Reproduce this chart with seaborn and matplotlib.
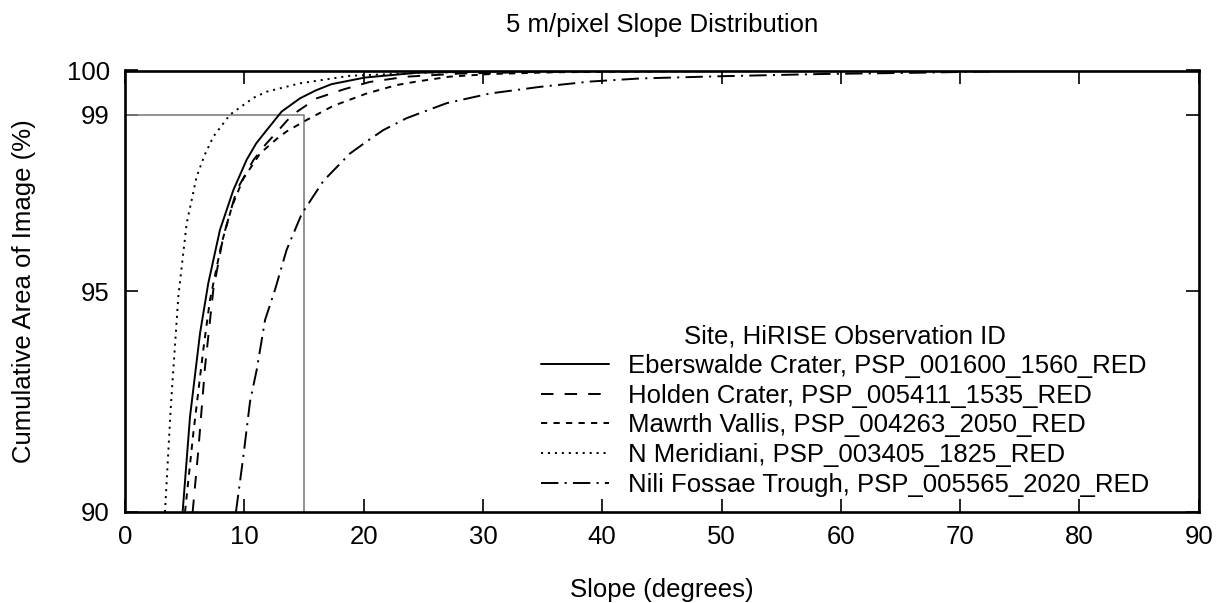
import pandas as pd
import seaborn as sns
import matplotlib.pyplot as plt

# cumulative slope distributions
sites = ["Eberswalde Crater, PSP_001600_1560_RED",
         "Holden Crater, PSP_005411_1535_RED",
         "Mawrth Vallis, PSP_004263_2050_RED",
         "N Meridiani, PSP_003405_1825_RED",
         "Nili Fossae Trough, PSP_005565_2020_RED"]

eberswalde_slope = [4.83, 5.45, 6.29, 6.98, 7.96, 9.08, 10.2, 11.0, 11.88, 13.13, 14.67, 16.0, 17.3, 20.1, 24.5, 30, 38, 48]
eberswalde_pct = [90, 92.16, 94.05, 95.18, 96.39, 97.29, 97.98, 98.35, 98.65, 99.07, 99.37, 99.55, 99.69, 99.84, 99.95, 99.98, 99.99, 100]

holden_slope = [5.67, 6.15, 6.71, 7.4, 8.24, 9.36, 10.76, 11.8, 12.71, 14.0, 16.07, 18.3, 20.5, 23.6, 28, 35, 45, 58]
holden_pct = [90, 91.41, 93.29, 95.03, 96.24, 97.29, 97.97, 98.33, 98.6, 98.99, 99.37, 99.57, 99.74, 99.86, 99.93, 99.97, 99.99, 100]

mawrth_slope = [5.03, 5.73, 6.56, 7.12, 8.1, 9.0, 9.92, 11.32, 12.71, 13.55, 15.23, 17.46, 20.26, 22.77, 24.45, 27.2, 30.6, 36, 45, 55, 65]
mawrth_pct = [90, 91.79, 93.67, 94.8, 96.09, 96.95, 97.55, 98.12, 98.45, 98.62, 98.88, 99.2, 99.48, 99.67, 99.75, 99.86, 99.92, 99.96, 99.98, 99.99, 100]

meridiani_slope = [3.35, 3.85, 4.47, 5.17, 6.01, 6.7, 7.4, 8.8, 10.76, 11.88, 14.67, 18.86, 25, 32, 40]
meridiani_pct = [90, 92.43, 94.88, 96.54, 97.6, 98.1, 98.5, 99.0, 99.38, 99.52, 99.71, 99.88, 99.95, 99.98, 100]

nili_slope = [9.3, 9.92, 10.48, 11.04, 11.74, 12.57, 13.55, 14.81, 16.63, 18.86, 20.4, 21.65, 23.6, 26.96, 30.6, 34.8, 39.0, 43.2, 49.9, 58.3, 66.6, 77]
nili_pct = [90, 91.26, 92.5, 93.22, 94.35, 95.03, 95.94, 96.75, 97.5, 98.12, 98.42, 98.65, 98.92, 99.26, 99.48, 99.63, 99.75, 99.82, 99.87, 99.92, 99.95, 100]

# 99% / 15 degree reference box
ref_slope = 15
ref_pct = 99

x_ticks = list(range(0, 91, 10))
y_ticks = [90, 95, 99, 100]

sns.set_style("ticks")
plt.rcParams['font.family'] = ['Liberation Sans', 'DejaVu Sans']
plt.rcParams['font.size'] = 18.5
plt.rcParams['lines.scale_dashes'] = False
plt.rcParams['text.color'] = 'black'
plt.rcParams['axes.labelcolor'] = 'black'
plt.rcParams['xtick.color'] = 'black'
plt.rcParams['ytick.color'] = 'black'

series = [(eberswalde_slope, eberswalde_pct, '-'),
          (holden_slope, holden_pct, (0, (9, 8))),
          (mawrth_slope, mawrth_pct, (0, (4.5, 4.5))),
          (meridiani_slope, meridiani_pct, (0, (1.5, 3.5))),
          (nili_slope, nili_pct, (0, (12.5, 4.5, 1.5, 4.5)))]

fig = plt.figure(figsize=(12.25, 6.03), dpi=100)
ax = fig.add_axes([125 / 1225, 91 / 603, 1073.7 / 1225, 441.5 / 603])

ax.plot([0, ref_slope, ref_slope], [ref_pct, ref_pct, 90], color='#808080', lw=1.2, zorder=1)

for name, (xs, ys, ls) in zip(sites, series):
    df = pd.DataFrame({'slope': xs, 'pct': ys})
    sns.lineplot(data=df, x='slope', y='pct', ax=ax, color='black', linestyle=ls,
                 lw=1.4, estimator=None, sort=False, label=name)

ax.set_xlim(0, 90)
ax.set_ylim(90, 100)
ax.set_xticks(x_ticks)
ax.set_yticks(y_ticks)
ax.tick_params(direction='in', length=9.5, width=1.2, top=True, right=True)
ax.tick_params(axis='x', pad=9)
ax.tick_params(axis='y', pad=11)
for sp in ax.spines.values():
    sp.set_linewidth(1.9)
    sp.set_color('black')

ax.set_title('5 m/pixel Slope Distribution', pad=28, fontsize=18.5)
ax.set_xlabel('Slope (degrees)', labelpad=21)
ax.set_ylabel('Cumulative Area of Image (%)', labelpad=22)

ax.legend(title='Site, HiRISE Observation ID', loc='lower left', bbox_to_anchor=(0.387, 0.035),
          frameon=False, borderpad=0, borderaxespad=0, handlelength=2.65, handletextpad=0.75,
          labelspacing=0.22, fontsize=18.5, title_fontsize=18.5)

fig.savefig('out.png', dpi=100)
